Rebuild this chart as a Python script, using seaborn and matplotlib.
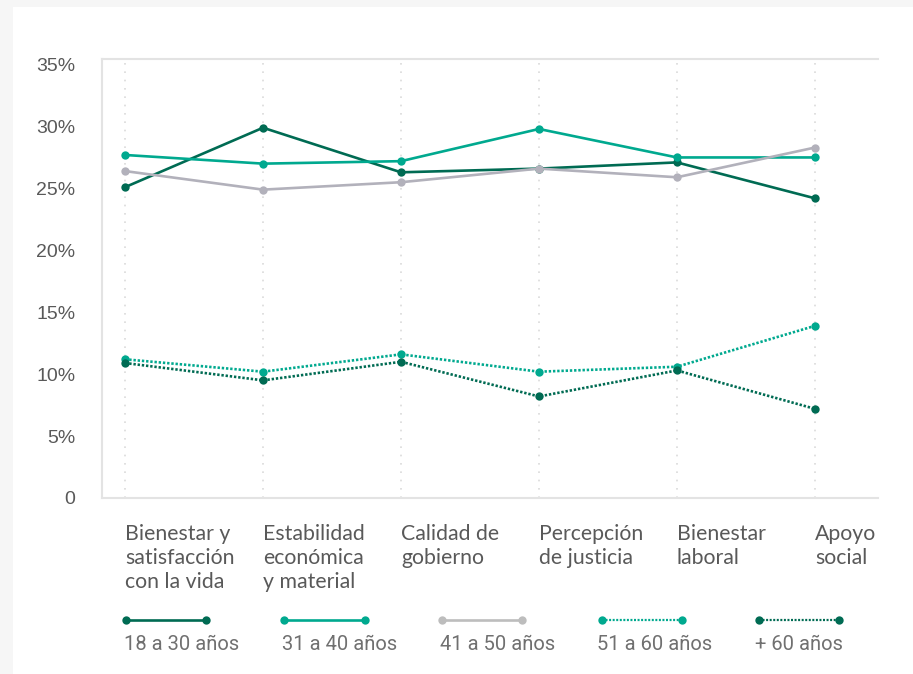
import matplotlib
matplotlib.use("Agg")
import matplotlib.pyplot as plt
from matplotlib.lines import Line2D
from matplotlib.patches import Rectangle
import seaborn as sns
import pandas as pd
import numpy as np

categories = [
    "Bienestar y\nsatisfacción\ncon la vida",
    "Estabilidad\neconómica\ny material",
    "Calidad de\ngobierno",
    "Percepción\nde justicia",
    "Bienestar\nlaboral",
    "Apoyo\nsocial",
]
series_names = ["18 a 30 años", "31 a 40 años", "41 a 50 años", "51 a 60 años", "+ 60 años"]
s18_30 = [25.1, 29.9, 26.3, 26.6, 27.1, 24.2]
s31_40 = [27.7, 27.0, 27.2, 29.8, 27.5, 27.5]
s41_50 = [26.4, 24.9, 25.5, 26.6, 25.9, 28.3]
s51_60 = [11.2, 10.2, 11.6, 10.2, 10.6, 13.9]
s60_plus = [10.9, 9.5, 11.0, 8.2, 10.3, 7.2]
y_ticks = [0, 5, 10, 15, 20, 25, 30, 35]
y_tick_labels = ["0", "5%", "10%", "15%", "20%", "25%", "30%", "35%"]

values = [s18_30, s31_40, s41_50, s51_60, s60_plus]
colors = ["#006B53", "#00A98F", "#B2B1BB", "#00A98F", "#006B53"]
legend_colors = ["#006B53", "#00A98F", "#BDBDBD", "#00A98F", "#006B53"]
dotted = (0, (0.9, 0.7))
styles = ["-", "-", "-", dotted, dotted]

rows = []
for name, vals in zip(series_names, values):
    for i, v in enumerate(vals):
        rows.append({"serie": name, "idx": i, "valor": v})
df = pd.DataFrame(rows)

sns.set_theme(style="white")
plt.rcParams["font.family"] = ["Liberation Sans", "DejaVu Sans"]

fig = plt.figure(figsize=(9.13, 6.74), dpi=100)
fig.patch.set_facecolor("#F6F6F6")
fig.patches.append(Rectangle((13 / 913, 0), 1, 1 - 7 / 674, transform=fig.transFigure,
                             facecolor="white", edgecolor="none", zorder=-10))

ax = fig.add_axes([102 / 913, 176 / 674, 776 / 913, 439 / 674])
ax.set_facecolor("none")
ax.set_zorder(2)

for name, col, ls in zip(series_names, colors, styles):
    sub = df[df["serie"] == name]
    sns.lineplot(data=sub, x="idx", y="valor", ax=ax, color=col, linewidth=1.9,
                 marker="o", markersize=6, markeredgewidth=0, legend=False, zorder=3)
    ax.lines[-1].set_linestyle(ls)
    ax.lines[-1].set_dash_capstyle("butt")

ax.set_xlim(-0.167, 5.457)
ax.set_ylim(0, 35.45)
ax.set_xlabel("")
ax.set_ylabel("")

ax.set_yticks(y_ticks)
ax.set_yticklabels(y_tick_labels, fontsize=14, color="#595959", fontfamily="Liberation Sans")
ax.tick_params(axis="y", length=0, pad=19)

ax.set_xticks(range(len(categories)))
ax.set_xticklabels(categories, fontsize=15.3, color="#595959", ha="left",
                   linespacing=1.24, fontfamily=["Lato", "DejaVu Sans"])
ax.tick_params(axis="x", length=11, width=1.3, color="#E3E3E3", pad=8, direction="out")

for i in range(len(categories)):
    ax.axvline(i, color="#DADADA", linestyle=(0, (1, 4)), linewidth=1.2, zorder=1)

for side in ["left", "top", "bottom"]:
    ax.spines[side].set_visible(True)
    ax.spines[side].set_color("#E3E3E3")
    ax.spines[side].set_linewidth(1.5)
ax.spines["right"].set_visible(False)
ax.grid(False)

# Custom legend: line sample above label
handle_x = [(126, 206), (284, 365), (442, 522), (602, 682), (759, 839)]
label_x = [124, 282, 440, 597, 755]
hy = 1 - 620 / 674
ty = 1 - 644 / 674
for (x0, x1), lx, name, col, ls in zip(handle_x, label_x, series_names, legend_colors, styles):
    fig.add_artist(Line2D([x0 / 913, x1 / 913], [hy, hy], transform=fig.transFigure,
                          color=col, linewidth=1.9 if ls == "-" else 1.6, linestyle=ls,
                          marker="o", markersize=6, markeredgewidth=0, markevery=[0, 1]))
    fig.text(lx / 913, ty, name, fontsize=14.5, color="#707070", ha="left", va="center",
             fontfamily=["Roboto", "DejaVu Sans"])

fig.savefig("out.png", dpi=100, facecolor=fig.get_facecolor())
